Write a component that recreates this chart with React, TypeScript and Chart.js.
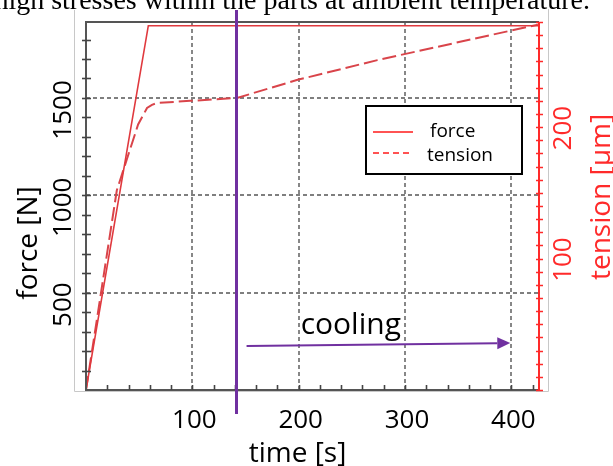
import React, { useEffect, useRef } from "react";
import { Chart, registerables } from "chart.js";

Chart.register(...registerables);

// ---- data ----
const forceTime = [0, 58.6, 426];
const forceValues = [0, 1871, 1871];

const tensionTime = [0, 29, 49, 57.4, 62, 67, 98, 142, 199, 274, 425];
const tensionValues = [0, 152, 202, 214.6, 217, 218.4, 220, 222.2, 236, 251, 278];

const timeTickLabels = [100, 200, 300, 400];
const forceTickLabels = [500, 1000, 1500];
const tensionTickLabels = [100, 200];

const timeMinorStep = 20;
const forceMinorStep = 100;
const tensionMinorStep = 10;

const coolingStart = 141;
const coolingArrowTime = [151, 399];
const coolingArrowForce = [226, 241];

const captionText = "high stresses within the parts at ambient temperature.";
const legendLabels = ["force", "tension"];

const SANS = '"Open Sans", "DejaVu Sans", sans-serif';
const RED_LINE = "#e0393e";
const RED_AXIS = "#ff2a2a";
const GRAY = "#555555";
const PURPLE = "#7030a0";

export default function App() {
  const ref = useRef<HTMLCanvasElement | null>(null);

  useEffect(() => {
    const canvas = ref.current;
    if (!canvas) return;

    const rotText = (ctx: CanvasRenderingContext2D, text: string, baseX: number, cy: number) => {
      ctx.save();
      ctx.translate(baseX, cy);
      ctx.rotate(-Math.PI / 2);
      ctx.textAlign = "center";
      ctx.textBaseline = "alphabetic";
      ctx.fillText(text, 0, 0);
      ctx.restore();
    };

    const steps = (scale: any, step: number) => {
      const out: number[] = [];
      for (let i = 1; i * step < scale.max - 1e-9; i++) out.push(i * step);
      return out;
    };

    const decor = {
      id: "decor",
      beforeDatasetsDraw(chart: any) {
        const ctx: CanvasRenderingContext2D = chart.ctx;
        const xs = chart.scales.x;
        const ys = chart.scales.y;
        const { left, right, top, bottom } = chart.chartArea;
        ctx.save();
        // outer light frame
        ctx.strokeStyle = "#c8c8c8";
        ctx.lineWidth = 1;
        ctx.beginPath();
        ctx.moveTo(left - 11.5, top - 12);
        ctx.lineTo(left - 11.5, bottom + 1.5);
        ctx.lineTo(right + 9.5, bottom + 1.5);
        ctx.lineTo(right + 9.5, top - 13);
        ctx.stroke();
        // grid lines
        ctx.strokeStyle = GRAY;
        ctx.lineWidth = 1.4;
        ctx.setLineDash([4, 3]);
        for (const v of timeTickLabels) {
          const px = Math.round(xs.getPixelForValue(v));
          ctx.beginPath();
          ctx.moveTo(px, top);
          ctx.lineTo(px, bottom);
          ctx.stroke();
        }
        for (const v of forceTickLabels) {
          const py = Math.round(ys.getPixelForValue(v));
          ctx.beginPath();
          ctx.moveTo(left, py);
          ctx.lineTo(right, py);
          ctx.stroke();
        }
        ctx.restore();
      },
      afterDatasetsDraw(chart: any) {
        const ctx: CanvasRenderingContext2D = chart.ctx;
        const xs = chart.scales.x;
        const ys = chart.scales.y;
        const y2 = chart.scales.y2;
        const { left, right, top, bottom } = chart.chartArea;
        ctx.save();
        ctx.setLineDash([]);

        // frame: top, left, bottom
        ctx.strokeStyle = GRAY;
        ctx.lineWidth = 2;
        ctx.beginPath();
        ctx.moveTo(right, top);
        ctx.lineTo(left, top);
        ctx.lineTo(left, bottom);
        ctx.lineTo(right, bottom);
        ctx.stroke();

        // left ticks
        ctx.strokeStyle = "#444";
        ctx.lineWidth = 1.6;
        for (const v of steps(ys, forceMinorStep)) {
          const py = Math.round(ys.getPixelForValue(v)) + 0.5;
          ctx.beginPath();
          ctx.moveTo(left - 4, py);
          ctx.lineTo(left + 5, py);
          ctx.stroke();
        }
        // bottom ticks
        for (const v of steps(xs, timeMinorStep)) {
          const px = Math.round(xs.getPixelForValue(v)) + 0.5;
          ctx.beginPath();
          ctx.moveTo(px, bottom);
          ctx.lineTo(px, bottom - 5);
          ctx.stroke();
        }
        // right axis (red)
        ctx.strokeStyle = RED_AXIS;
        ctx.lineWidth = 2;
        ctx.beginPath();
        ctx.moveTo(right, top);
        ctx.lineTo(right, bottom);
        ctx.stroke();
        ctx.lineWidth = 1.5;
        for (const v of [0, ...steps(y2, tensionMinorStep), y2.max]) {
          const py = Math.round(y2.getPixelForValue(v)) + 0.5;
          ctx.beginPath();
          ctx.moveTo(right - 3, py);
          ctx.lineTo(right + 4, py);
          ctx.stroke();
        }

        // tick labels
        ctx.font = `26px ${SANS}`;
        ctx.fillStyle = "#000";
        ctx.textAlign = "center";
        ctx.textBaseline = "alphabetic";
        for (const v of timeTickLabels) {
          ctx.fillText(String(v), xs.getPixelForValue(v) + 2, bottom + 38);
        }
        for (const v of forceTickLabels) {
          rotText(ctx, String(v), left - 15, ys.getPixelForValue(v) + 12);
        }
        ctx.fillStyle = RED_AXIS;
        for (const v of tensionTickLabels) {
          rotText(ctx, String(v), right + 32, y2.getPixelForValue(v) + 1);
        }

        // axis titles
        ctx.font = `28px ${SANS}`;
        ctx.fillStyle = "#000";
        ctx.textAlign = "center";
        ctx.fillText("time [s]", (left + right) / 2 - 15, bottom + 72);
        rotText(ctx, "force [N]", 37, (top + bottom) / 2 + 37);
        ctx.fillStyle = RED_AXIS;
        rotText(ctx, "tension [µm]", right + 71, (top + bottom) / 2 - 9);

        // cooling marker
        const cx = Math.round(xs.getPixelForValue(coolingStart)) + 0.5;
        ctx.strokeStyle = PURPLE;
        ctx.lineWidth = 3;
        ctx.beginPath();
        ctx.moveTo(cx, top - 12);
        ctx.lineTo(cx, bottom + 24);
        ctx.stroke();

        const ax0 = xs.getPixelForValue(coolingArrowTime[0]);
        const ay0 = ys.getPixelForValue(coolingArrowForce[0]);
        const ax1 = xs.getPixelForValue(coolingArrowTime[1]);
        const ay1 = ys.getPixelForValue(coolingArrowForce[1]);
        const ang = Math.atan2(ay1 - ay0, ax1 - ax0);
        const hl = 13, hw = 6;
        ctx.lineWidth = 2;
        ctx.beginPath();
        ctx.moveTo(ax0, ay0);
        ctx.lineTo(ax1 - hl * Math.cos(ang), ay1 - hl * Math.sin(ang));
        ctx.stroke();
        ctx.fillStyle = PURPLE;
        ctx.beginPath();
        ctx.moveTo(ax1, ay1);
        ctx.lineTo(ax1 - hl * Math.cos(ang) + hw * Math.sin(ang), ay1 - hl * Math.sin(ang) - hw * Math.cos(ang));
        ctx.lineTo(ax1 - hl * Math.cos(ang) - hw * Math.sin(ang), ay1 - hl * Math.sin(ang) + hw * Math.cos(ang));
        ctx.closePath();
        ctx.fill();

        ctx.font = `30px ${SANS}`;
        ctx.fillStyle = "#000";
        ctx.textAlign = "center";
        ctx.fillText("cooling", xs.getPixelForValue(249), ay0 - 12);

        // legend
        const lx = 366, ly = 106, lw = 156, lh = 68;
        ctx.fillStyle = "#fff";
        ctx.fillRect(lx, ly, lw, lh);
        ctx.strokeStyle = "#000";
        ctx.lineWidth = 2;
        ctx.strokeRect(lx, ly, lw, lh);
        ctx.strokeStyle = "#ff1a1a";
        ctx.lineWidth = 1.5;
        ctx.beginPath();
        ctx.moveTo(lx + 7, ly + 26);
        ctx.lineTo(lx + 47, ly + 26);
        ctx.stroke();
        ctx.setLineDash([6, 4]);
        ctx.beginPath();
        ctx.moveTo(lx + 7, ly + 47);
        ctx.lineTo(lx + 47, ly + 47);
        ctx.stroke();
        ctx.setLineDash([]);
        ctx.font = `19px ${SANS}`;
        ctx.fillStyle = "#000";
        ctx.textAlign = "left";
        ctx.fillText(legendLabels[0], lx + 64, ly + 31);
        ctx.fillText(legendLabels[1], lx + 61, ly + 55);

        ctx.restore();
      },
      afterDraw(chart: any) {
        const ctx: CanvasRenderingContext2D = chart.ctx;
        ctx.save();
        ctx.font = '28px "Liberation Serif", "DejaVu Serif", serif';
        ctx.fillStyle = "#000";
        ctx.textAlign = "right";
        ctx.textBaseline = "alphabetic";
        ctx.fillText(captionText, 590, 9);
        ctx.restore();
      },
    };

    const chart = new Chart(canvas, {
      type: "line",
      data: {
        datasets: [
          {
            label: legendLabels[0],
            data: forceTime.map((t, i) => ({ x: t, y: forceValues[i] })),
            yAxisID: "y",
            borderColor: RED_LINE,
            borderWidth: 1.6,
            pointRadius: 0,
            fill: false,
          },
          {
            label: legendLabels[1],
            data: tensionTime.map((t, i) => ({ x: t, y: tensionValues[i] })),
            yAxisID: "y2",
            borderColor: "#d9444a",
            borderWidth: 2,
            borderDash: [14, 5],
            pointRadius: 0,
            fill: false,
          },
        ],
      },
      options: {
        responsive: false,
        animation: false,
        devicePixelRatio: 1,
        layout: { padding: { left: 86, right: 74, top: 22, bottom: 76 } },
        plugins: { legend: { display: false }, tooltip: { enabled: false } },
        scales: {
          x: { type: "linear", display: false, min: 0, max: 426 },
          y: { type: "linear", display: false, position: "left", min: 0, max: 1890 },
          y2: { type: "linear", display: false, position: "right", min: 0, max: 280 },
        },
      },
      plugins: [decor],
    } as any);

    return () => chart.destroy();
  }, []);

  return (
    <div style={{ position: "absolute", left: 0, top: 0, width: 613, height: 466, background: "#fff" }}>
      <canvas ref={ref} width={613} height={466} style={{ display: "block", width: 613, height: 466 }} />
    </div>
  );
}
